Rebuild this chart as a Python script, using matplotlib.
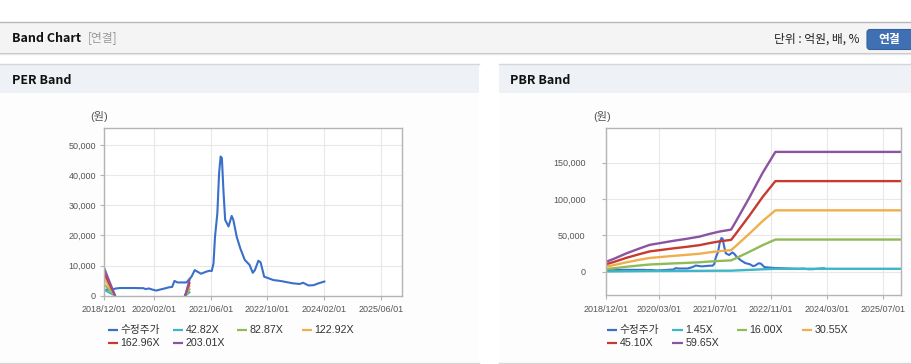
import numpy as np
import pandas as pd
import matplotlib
matplotlib.use("Agg")
import matplotlib.pyplot as plt
from matplotlib.patches import Rectangle, FancyBboxPatch

plt.rcParams['font.family'] = ['Liberation Sans', 'Noto Sans CJK KR', 'DejaVu Sans']

# 수정주가 (adjusted price, 원)
price_dates = ['2018-12-20', '2019-02-10', '2019-03-10', '2019-04-15', '2019-08-01',
               '2019-11-01', '2019-11-20', '2019-12-20', '2020-01-20', '2020-02-20',
               '2020-03-20', '2020-05-01', '2020-06-10', '2020-07-05', '2020-07-25',
               '2020-08-20', '2020-11-05', '2020-12-18', '2021-01-15', '2021-02-15',
               '2021-03-10', '2021-04-25', '2021-05-25', '2021-06-10', '2021-06-25',
               '2021-07-08', '2021-07-28', '2021-08-12', '2021-08-25', '2021-09-05',
               '2021-09-18', '2021-10-03', '2021-11-01', '2021-11-28', '2021-12-12',
               '2022-01-10', '2022-02-10', '2022-03-20', '2022-05-01', '2022-05-28',
               '2022-06-15', '2022-07-15', '2022-08-03', '2022-09-03', '2022-10-10',
               '2022-11-20', '2023-01-20', '2023-03-15', '2023-05-10', '2023-07-05',
               '2023-08-03', '2023-09-18', '2023-11-01', '2023-12-12', '2024-02-01']
price_vals = [2000, 2100, 2400, 2550, 2550,
              2500, 2200, 2400, 2000, 1700,
              2000, 2400, 2800, 2900, 4900,
              4400, 4400, 6300, 8500, 7800,
              7300, 8000, 8300, 8200, 10700,
              19600, 27400, 40700, 46200, 45700,
              35100, 25200, 23000, 26500, 25200,
              19600, 15700, 11900, 10200, 7600,
              8500, 11600, 11100, 6300, 5800,
              5200, 4900, 4500, 4100, 3900,
              4300, 3400, 3500, 4100, 4700]

# EPS behind the PER band (only where it is positive)
eps_dates = ['2018-12-01', '2019-03-01', '2019-06-01', '2020-10-25', '2020-12-01']
eps_vals = [44.8, 1.5, np.nan, 0.5, 25.6]
per_multiples = [42.82, 82.87, 122.92, 162.96, 203.01]
per_labels = ['42.82X', '82.87X', '122.92X', '162.96X', '203.01X']

# BPS behind the PBR band
bps_dates = ['2018-12-01', '2019-02-01', '2019-05-25', '2019-09-20', '2019-12-12',
             '2020-03-05', '2020-07-01', '2020-10-25', '2021-02-18', '2021-05-15',
             '2021-08-10', '2021-11-18', '2022-01-01', '2022-04-25', '2022-08-18',
             '2022-12-07', '2025-12-01']
bps_vals = [231, 293, 424, 541, 619,
            657, 711, 758, 811, 873,
            927, 972, 1173, 1710, 2280,
            2766, 2766]
pbr_multiples = [1.45, 16.00, 30.55, 45.10, 59.65]
pbr_labels = ['1.45X', '16.00X', '30.55X', '45.10X', '59.65X']

per_xticks = ['2018/12/01', '2020/02/01', '2021/06/01', '2022/10/01', '2024/02/01', '2025/06/01']
pbr_xticks = ['2018/12/01', '2020/03/01', '2021/07/01', '2022/11/01', '2024/03/01', '2025/07/01']
per_yticks = [0, 10000, 20000, 30000, 40000, 50000]
pbr_yticks = [0, 50000, 100000, 150000]

price_name = '수정주가'
colors = ['#3a6fca', '#3fb6c6', '#91bb55', '#f0ae4c', '#c73a2e', '#8b53a0']

W, H = 912, 364
fig = plt.figure(figsize=(W / 100, H / 100), dpi=100)

# page background drawn in pixel coordinates
bg = fig.add_axes([0, 0, 1, 1])
bg.set_xlim(0, W)
bg.set_ylim(H, 0)
bg.axis('off')

bg.add_patch(Rectangle((0, 22), W, 30, fc='#f4f4f4', ec='none'))
bg.plot([0, W], [22, 22], color='#b8b8b8', lw=1)
bg.plot([0, W], [52.5, 52.5], color='#c4c4c4', lw=1)
bg.plot([0, W], [53.5, 53.5], color='#e6e6e6', lw=1)
for x0, x1 in [(0, 479), (499, W)]:
    bg.add_patch(Rectangle((x0, 64), x1 - x0, 298, fc='#fdfdfd', ec='none'))
    bg.add_patch(Rectangle((x0, 64), x1 - x0, 29, fc='#eef2f7', ec='none'))
    bg.plot([x0, x1], [63.5, 63.5], color='#d6d6d6', lw=1)
    bg.plot([x0, x1], [362.5, 362.5], color='#d6d6d6', lw=1)

hfont = ['Noto Sans CJK KR', 'DejaVu Sans']
bg.text(12, 38, 'Band Chart', fontsize=9, fontweight='bold', family=hfont,
        color='#111111', va='center')
bg.text(88, 38, '[연결]', fontsize=8.5, family=hfont, color='#999999', va='center')
bg.text(860, 39, '단위 : 억원, 배, %', fontsize=8.5, family=hfont, color='#222222',
        va='center', ha='right')
bg.add_patch(FancyBboxPatch((867, 29.5), 60, 20, boxstyle='round,pad=0,rounding_size=3',
                            fc='#3f70b3', ec='#35609c', lw=0.8))
bg.text(889, 39, '연결', fontsize=8.5, fontweight='bold', family=hfont,
        color='white', va='center', ha='center')
bg.text(12, 80, 'PER Band', fontsize=9, fontweight='bold', family=hfont,
        color='#111111', va='center')
bg.text(510, 80, 'PBR Band', fontsize=9, fontweight='bold', family=hfont,
        color='#111111', va='center')


def style_axes(ax, xticks, yticks, ylim, ypad):
    ax.set_facecolor('white')
    for s in ax.spines.values():
        s.set_color('#b4b4b4')
        s.set_linewidth(1)
    ax.set_xlim(pd.Timestamp('2018-12-01'), pd.Timestamp('2025-12-01'))
    ax.set_ylim(*ylim)
    ax.set_xticks(pd.to_datetime(xticks, format='%Y/%m/%d'))
    ax.set_xticklabels(xticks)
    ax.set_yticks(yticks)
    ax.set_yticklabels([f'{v:,}' for v in yticks])
    ax.grid(True, color='#e8e8e8', lw=0.8)
    ax.set_axisbelow(True)
    ax.tick_params(colors='#b4b4b4', labelcolor='#555555', labelsize=6.5,
                   length=3, width=0.8)
    ax.tick_params(axis='x', pad=4)
    ax.tick_params(axis='y', pad=ypad)


def legend(x_cols, y_rows, names):
    for i, name in enumerate(names):
        x0 = x_cols[i % 4]
        y0 = y_rows[i // 4]
        bg.plot([x0, x0 + 10.6], [y0, y0], color=colors[i], lw=1.6,
                solid_capstyle='butt')
        bg.text(x0 + 13, y0, name, fontsize=7.7, color='#333333', va='center')


# PER band
ax1 = fig.add_axes([104.3 / W, 1 - 295.7 / H, 298 / W, 167.4 / H])
pdates = pd.to_datetime(price_dates)
ax1.plot(pdates, price_vals, color=colors[0], lw=1.5)
edates = pd.to_datetime(eps_dates)
eps = np.array(eps_vals)
for i, m in enumerate(per_multiples):
    ax1.plot(edates, eps * m, color=colors[i + 1], lw=1.5)
style_axes(ax1, per_xticks, per_yticks, (0, 55600), 3)
bg.text(99, 117, '(원)', fontsize=8, color='#555555', ha='center', va='center')
legend([107.7, 172.7, 236.7, 301.7], [330, 343.3], [price_name] + per_labels)

# PBR band
ax2 = fig.add_axes([606.3 / W, 1 - 295 / H, 294.7 / W, 166.7 / H])
ax2.plot(pdates, price_vals, color=colors[0], lw=1.5)
bdates = pd.to_datetime(bps_dates)
bps = np.array(bps_vals)
for i, m in enumerate(pbr_multiples):
    ax2.plot(bdates, bps * m, color=colors[i + 1], lw=1.7)
style_axes(ax2, pbr_xticks, pbr_yticks, (-32100, 197500), 12)
bg.text(601.7, 117, '(원)', fontsize=8, color='#555555', ha='center', va='center')
legend([606.7, 672.3, 736.7, 801.7], [330, 343.3], [price_name] + pbr_labels)

fig.savefig('out.png', dpi=100)
